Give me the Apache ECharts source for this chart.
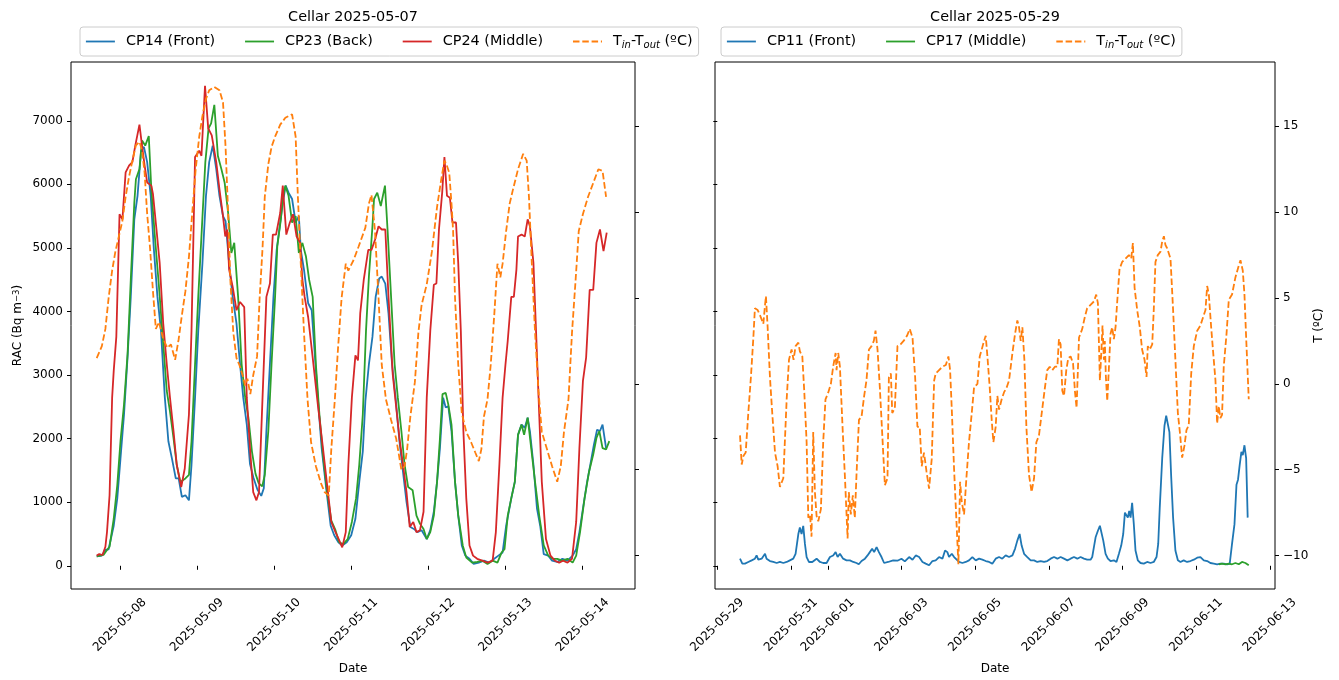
<!DOCTYPE html>
<html>
<head>
<meta charset="utf-8">
<script src="https://cdn.jsdelivr.net/npm/echarts@6/dist/echarts.min.js"></script>
<style>
html,body{margin:0;padding:0;background:#fff;}
#chart{width:1339px;height:680px;}
</style>
</head>
<body>
<div id="chart"></div>
<script>
// ---- Left panel (hours since 2025-05-07 00:00) ----
const baseLeft = Date.UTC(2025, 4, 7);
const baseRight = Date.UTC(2025, 4, 29);
const leftTickHours = [24, 48, 72, 96, 120, 144, 168];
const rightTickHours = [0, 48, 72, 120, 168, 216, 264, 312, 360];
const racTicks = [0, 1000, 2000, 3000, 4000, 5000, 6000, 7000];
const tempTicks = [-10, -5, 0, 5, 10, 15];

const cp14Hours = [16.8,18.4,19.5,20.5,21.0,22.1,23.2,24.2,25.3,26.4,27.4,28.5,29.5,30.6,31.5,32.5,33.6,34.6,35.7,36.8,38.0,39.1,40.2,41.4,42.3,43.3,44.4,45.5,46.3,47.4,48.4,49.7,50.8,51.8,52.9,54.0,55.0,56.1,56.9,58.0,59.1,60.3,61.4,62.4,63.5,64.5,65.6,66.8,68.0,68.8,69.6,70.7,71.8,72.8,73.9,74.7,75.6,76.5,77.6,78.7,79.7,80.3,81.3,82.6,83.7,84.5,85.6,86.8,88.2,89.6,90.7,92.0,93.2,94.6,96.0,97.3,98.5,99.6,100.4,101.5,102.6,103.6,104.7,105.5,106.6,107.6,108.7,109.8,111.0,112.1,113.2,114.4,115.5,116.6,117.9,119.5,120.6,121.7,122.7,123.6,124.6,125.4,126.2,127.2,128.3,129.3,130.4,131.5,132.8,134.1,135.7,137.3,138.9,140.5,141.8,143.1,144.2,145.8,146.9,147.9,149.0,150.0,150.9,151.6,152.7,153.8,154.8,155.9,157.3,158.5,160.1,161.7,163.3,164.9,166.0,167.0,168.1,169.4,170.4,171.5,172.5,173.4,174.2,175.3];
const cp14Rac = [150,160,250,260,280,630,1060,1690,2380,3280,4230,5450,5820,6530,6590,6350,5820,4970,4230,3700,2645,1960,1690,1375,1375,1085,1110,1030,1590,2645,3700,4760,5820,6350,6610,6240,5820,5500,5420,4760,4230,3810,3170,2645,2220,1600,1380,1200,1100,1220,2120,3170,4230,4970,5400,5710,5980,5870,5770,5400,5500,4970,4660,4130,4020,3440,2645,1850,1220,630,480,370,320,370,480,740,1320,1800,2590,3170,3600,4230,4520,4550,4440,3970,3170,2645,1960,1480,1005,610,580,530,560,420,560,850,1320,1850,2645,2490,2510,2120,1320,790,320,160,110,30,50,80,50,110,160,210,630,1060,1320,2060,2220,2170,2330,2120,1590,900,630,185,160,80,60,110,80,160,260,530,900,1320,1590,1900,2140,2120,2220,1850];

const cp23Hours = [16.8,18.9,20.0,20.8,22.1,23.2,24.2,25.3,26.4,27.4,28.5,29.0,30.1,30.9,31.9,33.0,33.8,34.9,36.1,37.2,38.6,39.6,40.7,41.7,42.8,44.4,45.5,46.3,47.4,48.4,49.5,50.6,51.6,52.4,53.4,54.5,55.6,56.6,57.7,58.7,59.6,60.8,61.9,63.0,64.0,65.1,66.2,67.2,68.3,69.1,70.2,71.2,72.3,73.0,74.1,74.7,75.5,76.5,77.6,78.7,79.7,80.8,81.9,82.9,84.0,85.0,86.1,87.2,88.5,89.8,91.1,92.2,93.5,94.9,96.2,97.5,98.5,99.6,100.6,101.5,102.6,103.1,104.1,105.2,106.5,107.3,108.4,109.5,110.5,111.6,112.6,113.7,115.1,116.3,117.4,118.5,119.5,120.6,121.7,122.7,123.6,124.4,125.4,126.2,127.2,128.3,129.3,130.7,131.8,133.6,135.2,136.8,138.4,140.0,141.5,142.8,143.7,144.7,145.8,146.9,147.9,149.0,149.8,150.9,152.0,153.2,154.5,155.9,157.3,158.7,160.1,161.7,163.3,164.9,166.0,167.2,168.6,170.0,171.3,172.3,173.2,174.2,175.3,176.3];
const cp23Rac = [150,170,250,300,740,1270,1960,2540,3330,4500,5710,6080,6240,6690,6610,6760,5920,5180,4440,3700,2750,2430,2010,1590,1320,1375,1430,1960,3170,4230,5290,6350,6880,6960,7250,6450,6240,6030,5550,4920,5080,4230,3170,2645,2330,1800,1450,1300,1250,1430,2120,3170,4230,5030,5450,5770,5980,5820,5400,5500,4920,5080,4870,4500,4230,3170,2380,1750,1160,710,560,370,340,420,690,1060,1590,2380,3700,4550,5340,5770,5870,5660,5980,5290,4230,3170,2645,2120,1590,1240,1190,790,660,580,420,530,790,1320,2000,2700,2720,2540,2220,1320,790,320,130,50,60,80,30,80,50,210,260,790,1060,1320,2060,2220,2060,2330,1850,1320,790,320,160,110,110,80,110,50,160,530,1060,1480,1750,2010,2120,1850,1830,1960];

const cp24Hours = [16.8,17.6,18.6,19.5,20.0,20.8,21.6,22.1,22.9,23.9,24.8,25.8,26.9,27.9,28.8,30.1,30.9,31.7,32.5,33.8,34.3,35.4,36.4,37.5,38.6,39.6,40.7,41.7,43.1,44.2,45.5,46.3,47.4,48.7,49.4,50.5,51.5,52.6,54.0,55.0,56.1,56.8,57.4,58.0,59.1,60.3,61.4,62.7,63.5,64.5,65.5,66.5,67.3,68.4,69.6,70.7,71.6,72.6,73.9,74.7,75.8,76.9,77.9,79.0,80.1,80.8,81.5,82.6,84.0,85.6,87.2,88.5,89.8,91.1,92.1,93.2,94.3,95.1,96.2,97.3,98.1,98.8,99.9,101.3,102.3,103.4,104.5,105.5,106.6,107.6,108.9,110.0,111.0,112.1,113.2,114.2,115.3,116.3,117.4,118.5,119.5,120.6,121.7,122.5,123.3,124.3,125.0,125.8,126.7,127.5,128.6,129.3,130.1,130.9,131.8,132.8,133.9,135.2,136.8,138.4,140.0,141.0,142.1,143.1,144.0,144.7,145.8,146.6,147.4,147.9,149.0,150.0,150.9,151.6,152.7,153.5,154.3,155.3,156.6,158.0,159.4,160.7,161.9,163.3,164.7,166.0,167.0,168.1,169.1,170.2,171.3,172.3,173.4,174.5,175.5];
const cp24Rac = [160,185,170,300,530,1110,2645,3070,3600,5530,5450,6190,6300,6350,6610,6940,6610,6300,6030,5980,5850,5290,4760,3810,3170,2645,2120,1590,1240,1530,2380,3700,6430,6530,6450,7550,6880,6770,6350,5920,5500,5180,5290,4660,4390,4020,4150,4070,2645,1850,1160,1030,1160,2645,4230,4440,5210,5210,5550,5980,5210,5400,5530,5180,5080,4500,4230,3910,3280,2540,1850,1270,690,530,420,290,530,1590,2645,3310,3230,3970,4500,4970,4970,5130,5340,5290,5290,4230,3020,2490,2010,1590,1160,610,690,530,560,850,2645,3700,4420,4440,5290,5870,6430,5820,5790,5400,5400,4760,3700,2120,1060,320,160,110,80,50,80,530,1590,2645,3170,3540,4230,4230,4660,5180,5210,5180,5450,5340,4760,3700,2645,1320,420,160,80,50,80,50,110,690,1850,2910,3280,4340,4340,5080,5290,4950,5240];

const tLeftHours = [16.8,18.4,19.5,20.5,21.6,22.6,23.7,24.8,25.8,26.9,27.9,29.0,30.1,30.9,31.7,32.5,33.4,34.3,35.2,36.2,37.5,38.8,39.9,41.2,42.3,43.3,44.4,45.5,46.5,47.6,48.7,49.7,50.8,51.8,53.4,55.0,56.1,56.9,57.7,58.4,59.3,60.3,61.2,62.2,63.0,63.7,64.6,65.5,66.7,67.5,68.4,69.1,70.2,71.2,72.3,73.9,75.5,76.5,77.6,78.7,79.4,80.3,81.3,82.4,83.5,85.0,86.6,87.7,89.0,89.8,90.9,91.9,93.0,94.3,95.1,96.7,98.3,100.4,101.5,102.3,103.4,104.5,105.5,106.8,108.4,110.0,111.6,112.6,113.4,114.4,115.8,116.9,117.9,119.5,121.1,122.7,124.0,125.0,125.6,126.5,127.2,127.7,128.3,129.3,130.4,131.8,133.3,134.6,135.7,136.5,137.3,138.4,139.4,140.5,141.5,142.4,143.1,144.2,145.3,146.3,147.9,149.5,150.6,151.3,152.2,153.2,154.3,155.3,156.9,158.5,160.1,161.2,162.2,163.6,164.7,165.8,166.8,168.1,169.7,171.3,172.9,174.2,175.3];
const tLeft = [1.5,2.2,3.2,5.0,6.6,7.7,8.6,9.5,10.9,12.1,13.0,13.9,14.1,13.6,12.3,9.9,7.9,5.4,3.2,3.6,2.6,2.1,2.3,1.4,2.6,4.0,5.4,7.4,9.9,12.5,14.4,15.6,16.6,17.1,17.3,17.1,16.4,13.8,9.9,6.0,3.0,1.5,1.1,0.5,-0.1,0.3,-0.6,0.5,1.6,5.0,7.9,10.9,12.8,13.8,14.4,15.1,15.5,15.6,15.7,14.4,10.9,7.0,3.0,-0.9,-3.4,-4.8,-5.8,-6.3,-6.5,-3.8,-0.9,2.1,5.0,7.0,6.6,7.2,8.0,9.1,10.5,11.0,8.9,5.0,1.1,-0.9,-2.1,-3.2,-5.0,-4.8,-3.8,-1.9,0.1,3.0,4.6,5.8,7.7,10.3,11.9,13.0,12.8,12.3,10.5,8.9,5.0,1.1,-1.7,-2.8,-3.4,-4.0,-4.5,-3.8,-1.9,-0.9,1.1,4.0,7.0,6.2,7.0,8.9,10.5,11.3,12.5,13.4,13.0,10.9,7.0,3.0,-0.5,-2.8,-3.8,-4.8,-5.7,-4.8,-2.8,-0.9,3.0,6.0,8.9,9.9,10.9,11.7,12.5,12.4,10.9];

// ---- Right panel (hours since 2025-05-29 00:00) ----
const cp11Hours = [14.8,16.3,18.0,20.2,22.4,24.5,25.6,26.7,28.9,31.1,32.1,34.3,36.5,38.7,40.8,43.0,45.2,47.3,49.5,51.0,52.8,53.8,54.9,56.0,57.1,58.2,59.7,61.9,64.7,66.9,69.0,71.2,73.4,75.5,77.1,78.4,79.9,82.0,84.2,86.4,88.6,90.7,92.2,94.0,96.2,97.9,99.4,100.9,102.2,103.8,105.3,107.0,108.7,111.3,114.6,117.4,120.0,122.2,125.0,127.2,129.3,131.5,133.7,135.8,138.0,140.2,142.3,144.5,146.7,148.4,149.9,151.0,152.8,154.3,155.4,157.5,159.7,161.9,164.0,166.2,168.4,170.6,172.7,174.9,177.1,179.2,181.4,183.6,185.7,187.9,190.1,192.3,194.0,195.5,197.0,198.3,199.9,202.0,204.2,206.4,208.5,210.7,212.9,215.0,217.2,219.4,221.6,223.7,225.9,228.1,230.2,232.4,234.6,236.7,238.9,241.0,243.2,244.3,245.4,246.5,248.0,249.3,250.2,251.5,253.0,254.5,256.2,258.4,260.1,261.7,263.2,264.5,265.6,266.6,267.5,268.4,269.3,270.3,271.4,272.5,274.0,275.8,277.9,280.1,282.3,284.4,286.2,287.3,288.3,289.9,291.4,292.5,293.6,294.6,295.7,297.0,298.5,300.1,301.8,303.9,306.1,308.3,310.5,312.7,314.8,317.0,319.2,321.3,323.5,325.7,327.8,330.0,332.2,333.9,335.4,337.0,338.3,339.3,340.4,341.5,342.4,343.5,344.6,345.6];
const cp11Rac = [112,34,34,60,86,112,163,96,112,189,112,75,60,44,60,44,60,86,112,189,500,603,500,629,344,138,60,60,112,60,44,44,138,163,215,138,189,112,86,86,60,44,24,75,112,163,215,267,215,293,215,138,44,60,86,80,110,70,138,96,163,138,60,34,8,75,86,138,112,241,215,138,189,138,112,60,44,60,86,138,86,112,96,75,60,34,112,138,112,163,138,163,267,396,500,318,189,138,86,86,60,75,60,75,112,138,112,138,112,86,112,138,112,138,112,96,96,138,293,448,551,629,655,396,189,112,75,86,60,189,318,500,836,810,758,862,758,991,655,241,86,44,34,60,44,60,138,344,913,1689,2206,2361,2387,2103,1431,758,241,86,60,86,60,75,96,127,138,86,75,44,34,24,34,34,24,34,344,655,1276,1354,1586,1793,1741,1896,1689,758];

const cp17Hours = [326.8,328.9,331.1,333.3,335.4,337.6,339.8,341.9,344.1,346.3];
const cp17Rac = [24,34,24,34,24,44,24,60,44,8];

const tRightHours = [14.8,15.9,17.0,18.5,20.2,21.9,23.5,24.5,26.3,27.8,28.9,30.0,31.1,31.7,32.8,34.3,35.8,37.6,39.3,40.8,43.0,44.1,45.2,46.7,48.4,49.7,51.0,52.8,53.8,55.4,56.7,58.2,59.3,60.4,61.4,62.5,63.6,64.7,65.8,67.5,69.0,70.5,72.3,74.0,75.5,77.1,77.7,78.8,79.9,81.6,83.1,84.9,85.7,87.0,88.3,89.6,90.7,92.3,94.0,95.7,97.2,98.8,100.5,102.0,103.1,104.4,105.9,107.4,109.2,110.9,111.8,113.1,114.0,115.7,117.4,119.4,121.4,123.6,125.4,127.2,128.9,130.4,131.9,133.2,134.7,136.3,138.0,139.7,141.3,142.3,144.5,146.7,148.9,150.6,151.7,152.8,154.3,155.4,157.1,158.2,159.3,160.8,162.3,164.0,165.8,167.3,169.5,171.0,172.3,173.8,174.9,176.0,177.5,178.8,179.9,181.4,182.5,183.6,185.3,186.8,188.6,190.1,192.3,194.0,195.5,196.6,197.7,198.8,200.1,201.4,203.1,204.8,206.4,207.9,209.6,211.4,213.5,215.0,216.6,218.3,220.0,221.6,222.6,223.7,224.8,225.9,227.4,228.7,230.2,231.8,233.1,234.1,235.7,237.8,239.5,241.0,243.2,245.4,246.9,248.0,249.3,250.2,251.0,251.9,252.5,253.2,254.1,255.1,256.2,257.3,258.4,259.5,260.6,262.1,263.8,266.0,268.2,269.7,270.8,271.9,273.6,275.3,276.8,278.4,279.7,280.5,281.8,283.4,284.4,285.5,287.0,288.8,289.9,291.0,292.0,293.1,294.2,295.3,297.0,298.5,300.1,301.4,302.9,304.4,305.7,307.2,308.8,310.5,312.7,314.8,316.6,318.1,319.2,320.3,321.8,323.5,324.6,325.7,326.8,327.8,328.9,330.0,331.8,333.3,335.4,337.6,339.8,340.9,342.4,343.5,344.6,346.3];
const tRight = [-3.0,-4.7,-4.2,-4.0,-1.7,0.4,2.7,4.4,4.3,4.0,4.1,3.5,4.6,5.1,3.3,0.4,-1.7,-4.0,-4.8,-6.0,-5.5,-3.2,-0.9,1.4,2.0,1.4,2.2,2.4,1.9,1.6,-0.5,-3.4,-7.8,-7.6,-8.9,-2.8,-6.3,-7.7,-8.0,-7.3,-3.4,-0.9,-0.5,0.0,1.0,1.8,0.8,1.8,1.0,-2.5,-5.3,-9.0,-6.3,-7.6,-6.5,-7.8,-5.3,-2.1,-1.9,-0.7,0.2,2.0,2.2,2.5,3.1,2.0,-0.2,-2.8,-5.9,-5.5,0.4,0.6,-1.7,-1.4,2.2,2.3,2.5,2.8,3.2,2.7,0.4,-2.5,-2.5,-4.8,-4.0,-5.1,-6.1,-4.4,0.2,0.6,0.8,1.0,1.1,1.6,0.8,-1.5,-5.0,-5.1,-10.5,-5.7,-6.9,-7.6,-5.5,-3.4,-1.7,-0.2,0.0,1.6,2.0,2.5,2.8,1.6,-0.2,-2.1,-3.4,-2.5,-0.7,-1.5,-0.9,-0.5,-0.2,0.2,1.8,2.9,3.7,3.3,2.5,3.3,1.4,-2.5,-5.3,-6.3,-5.5,-3.4,-3.0,-1.7,-0.2,0.8,1.0,0.8,1.0,1.0,2.6,2.3,-0.4,-0.7,0.8,1.5,1.6,1.2,-0.5,-1.4,2.7,3.2,3.9,4.4,4.6,4.8,5.2,4.7,0.2,1.8,3.4,1.4,2.5,0.4,-1.0,0.8,2.9,3.3,2.6,3.3,4.8,6.7,7.1,7.3,7.5,7.3,8.2,5.6,4.3,3.3,2.0,1.4,0.4,2.2,2.0,2.3,4.3,7.1,7.5,7.7,8.3,8.6,8.1,7.9,8.0,7.3,4.3,1.4,-1.7,-2.8,-4.3,-3.6,-2.7,-2.4,0.6,2.2,3.1,3.4,3.9,4.3,5.7,5.2,3.3,1.4,0.2,-2.3,-1.3,-2.0,-1.8,1.0,2.9,4.9,5.2,6.2,6.9,7.2,6.6,5.2,2.7,-0.9];

// ---- build ----
const FONT = 'DejaVu Sans';
const C = {blue:'#1f77b4', orange:'#ff7f0e', green:'#2ca02c', red:'#d62728'};
function zip(h, v){ return h.map((x,i)=>[x, v[i]]); }
function fmtDate(base){
  return function(h){
    const d = new Date(base + h*3600e3);
    const m = String(d.getUTCMonth()+1).padStart(2,'0');
    const dd = String(d.getUTCDate()).padStart(2,'0');
    return d.getUTCFullYear() + '-' + m + '-' + dd;
  };
}
function fmtNum(v){ return v < 0 ? '\u2212' + Math.abs(v) : String(v); }

const RAC_MIN = -365, RAC_MAX = 7925, T_MIN = -11.95, T_MAX = 18.75;
const tickLbl = {fontFamily: FONT, fontSize: 12, color: '#000'};

function xAxisCfg(gridIndex, min, max, ticks, base){
  return {
    type:'value', gridIndex, min, max,
    axisLine:{show:false},
    splitLine:{show:false},
    axisTick:{show:true, length:4, customValues:ticks, lineStyle:{color:'#000', width:1}},
    axisLabel:{show:true, customValues:ticks, rotate:45, align:'center', verticalAlign:'middle', margin:36,
      formatter: fmtDate(base), ...tickLbl},
    name:'Date', nameLocation:'middle', nameGap:74,
    nameTextStyle:{fontFamily:FONT, fontSize:12, color:'#000', verticalAlign:'top'}
  };
}
function yAxisCfg(gridIndex, pos, min, max, ticks, showLabel, name, nameGap){
  const a = {
    type:'value', gridIndex, position:pos, min, max,
    axisLine:{show:false},
    splitLine:{show:false},
    axisTick:{show:true, length:4, customValues:ticks, lineStyle:{color:'#000', width:1}},
    axisLabel:{show:showLabel, customValues:ticks, margin:8, formatter: fmtNum, ...tickLbl}
  };
  if (name){
    a.name = name; a.nameLocation='middle'; a.nameGap = nameGap; a.nameRotate = 90;
    a.nameTextStyle = {fontFamily:FONT, fontSize:12, color:'#000',
      rich:{sup:{fontFamily:FONT, fontSize:8.5, color:'#000', verticalAlign:'top', lineHeight:12}}};
  }
  return a;
}
function lineSeries(name, data, color, xi, yi, dashed){
  return {
    type:'line', name, data, xAxisIndex:xi, yAxisIndex:yi,
    showSymbol:false, symbol:'none', animation:false, smooth:false,
    lineStyle:{color, width:1.8, type: dashed ? [6.5, 2.8] : 'solid'},
    itemStyle:{color},
    z: dashed ? 5 : 3
  };
}
const T_LABEL = 'T{s|in}-T{s|out} (\u00baC)';
function legendCfg(left, names){
  return {
    left, top:27, orient:'horizontal', itemWidth:29, itemHeight:12, itemGap:29,
    padding:[6,6,6,5], borderColor:'#cccccc', borderWidth:1, borderRadius:3,
    backgroundColor:'rgba(255,255,255,0.8)',
    data: names, selectedMode:false,
    itemStyle:{opacity:0, borderWidth:0},
    lineStyle:{width:1.8},
    formatter: n => (n.indexOf('Tdiff') === 0 ? T_LABEL : n),
    textStyle:{fontFamily:FONT, fontSize:14.4, color:'#000', padding:[0,0,0,6], lineHeight:17,
      rich:{s:{fontFamily:FONT, fontSize:10, fontStyle:'italic', color:'#000', verticalAlign:'bottom', lineHeight:11}}}
  };
}

const chart = echarts.init(document.getElementById('chart'), null, {renderer:'canvas'});
chart.setOption({
  animation:false,
  backgroundColor:'#fff',
  title:[
    {text:'Cellar 2025-05-07', left:353, top:10, textAlign:'center', padding:0,
      textStyle:{fontFamily:FONT, fontSize:14.4, fontWeight:'normal', color:'#000'}},
    {text:'Cellar 2025-05-29', left:995, top:10, textAlign:'center', padding:0,
      textStyle:{fontFamily:FONT, fontSize:14.4, fontWeight:'normal', color:'#000'}}
  ],
  legend:[
    legendCfg(80, ['CP14 (Front)','CP23 (Back)','CP24 (Middle)','Tdiff A']),
    legendCfg(721, ['CP11 (Front)','CP17 (Middle)','Tdiff B'])
  ],
  grid:[
    {left:71, top:62, width:564, height:535, show:true, borderColor:'#000', borderWidth:1, containLabel:false},
    {left:715, top:62, width:560, height:535, show:true, borderColor:'#000', borderWidth:1, containLabel:false}
  ],
  xAxis:[
    xAxisCfg(0, 8.8, 184.3, leftTickHours, baseLeft),
    xAxisCfg(1, -1.5, 363.4, rightTickHours, baseRight)
  ],
  yAxis:[
    yAxisCfg(0, 'left', RAC_MIN, RAC_MAX, racTicks, true, 'RAC (Bq m{sup|\u22123})', 47),
    yAxisCfg(0, 'right', T_MIN, T_MAX, tempTicks, false),
    yAxisCfg(1, 'left', RAC_MIN, RAC_MAX, racTicks, false),
    yAxisCfg(1, 'right', T_MIN, T_MAX, tempTicks, true, 'T (\u00baC)', 38)
  ],
  series:[
    lineSeries('CP14 (Front)', zip(cp14Hours, cp14Rac), C.blue, 0, 0),
    lineSeries('CP23 (Back)', zip(cp23Hours, cp23Rac), C.green, 0, 0),
    lineSeries('CP24 (Middle)', zip(cp24Hours, cp24Rac), C.red, 0, 0),
    lineSeries('Tdiff A', zip(tLeftHours, tLeft), C.orange, 0, 1, true),
    lineSeries('CP11 (Front)', zip(cp11Hours, cp11Rac), C.blue, 1, 2),
    lineSeries('CP17 (Middle)', zip(cp17Hours, cp17Rac), C.green, 1, 2),
    lineSeries('Tdiff B', zip(tRightHours, tRight), C.orange, 1, 3, true)
  ]
});
</script>
</body>
</html>
